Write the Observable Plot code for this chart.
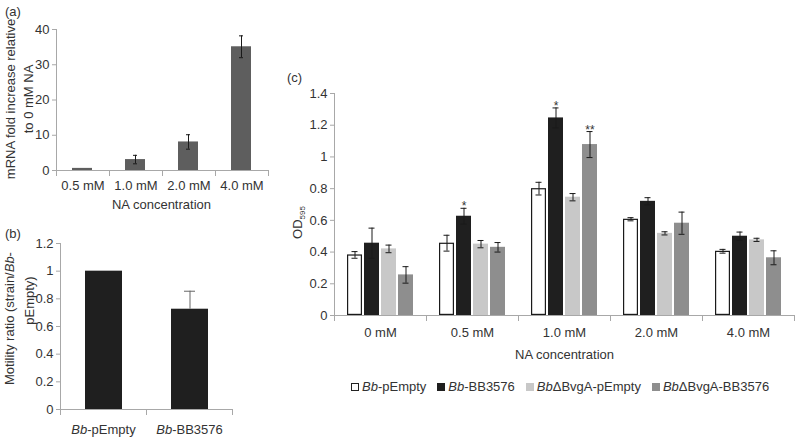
<!DOCTYPE html>
<html><head><meta charset="utf-8">
<script src="https://cdn.jsdelivr.net/npm/d3@7"></script>
<script src="https://cdn.jsdelivr.net/npm/@observablehq/plot@0.6"></script>
<style>
body{margin:0;background:#fff;}
#root{position:relative;width:796px;height:438px;overflow:hidden;font-family:"Liberation Sans",Arial,sans-serif;color:#333;background:#fff;}
.panel{position:absolute;}
.tag{position:absolute;font-size:13px;line-height:15px;}
#legend{position:absolute;display:flex;align-items:center;gap:11px;font-size:13px;white-space:nowrap;line-height:15px;}
#legend .it{display:flex;align-items:center;gap:3px;}
#legend .sw{display:inline-block;width:6px;height:6px;}
</style></head><body><div id="root"></div>
<script>
// ---- Panel (a) data ----
const concA = ["0.5 mM", "1.0 mM", "2.0 mM", "4.0 mM"];
const foldA = [0.6, 3.1, 8.1, 35.1];
const foldErrA = [0, 1.2, 2.05, 3.1];
const ticksA = [0, 10, 20, 30, 40];
const labelA = ["mRNA fold increase relative", "to 0 mM NA"];

// ---- Panel (b) data ----
const strainsB = ["Bb-pEmpty", "Bb-BB3576"];
const motB = [1, 0.725];
const motErrB = [0, 0.13];
const ticksB = [0, 0.2, 0.4, 0.6, 0.8, 1, 1.2];
const labelB = ["Motility ratio (strain/Bb-", "pEmpty)"];

// ---- Panel (c) data ----
const concC = ["0 mM", "0.5 mM", "1.0 mM", "2.0 mM", "4.0 mM"];
const seriesC = ["Bb-pEmpty", "Bb-BB3576", "Bb\u0394BvgA-pEmpty", "Bb\u0394BvgA-BB3576"];
const odPEmpty      = [0.382, 0.456, 0.800, 0.607, 0.405];
const odBB3576      = [0.456, 0.626, 1.246, 0.720, 0.500];
const odDeltaPEmpty = [0.420, 0.450, 0.746, 0.518, 0.477];
const odDeltaBB3576 = [0.256, 0.430, 1.078, 0.582, 0.364];
const errPEmpty      = [0.021, 0.050, 0.040, 0.010, 0.012];
const errBB3576      = [0.095, 0.050, 0.063, 0.023, 0.026];
const errDeltaPEmpty = [0.024, 0.023, 0.023, 0.010, 0.010];
const errDeltaBB3576 = [0.052, 0.030, 0.082, 0.070, 0.044];
const sigConc = ["0.5 mM", "1.0 mM", "1.0 mM"];
const sigSeries = ["Bb-BB3576", "Bb-BB3576", "Bb\u0394BvgA-BB3576"];
const sigLabel = ["*", "*", "**"];
const ticksC = [0, 0.2, 0.4, 0.6, 0.8, 1, 1.2, 1.4];
const colorsC = ["#ffffff", "#1f1f1f", "#c8c8c8", "#8e8e8e"];

const font = '"Liberation Sans", Arial, sans-serif';
const axisGray = "#a8a8a8";
const ink = "#333";
const svgNS = "http://www.w3.org/2000/svg";
const fmt = d3.format("~g");
const style = () => ({fontFamily: font, fontSize: "13px", color: ink, background: "transparent", overflow: "visible"});

function place(el, left, top) {
  const wrap = document.createElement("div");
  wrap.className = "panel";
  wrap.style.left = left + "px"; wrap.style.top = top + "px";
  wrap.appendChild(el);
  document.getElementById("root").appendChild(wrap);
  return wrap;
}
function tag(text, left, top) {
  const d = document.createElement("div");
  d.className = "tag"; d.textContent = text;
  d.style.left = left + "px"; d.style.top = top + "px";
  document.getElementById("root").appendChild(d);
}
function italicizeBb(svg) {
  const w = document.createTreeWalker(svg, NodeFilter.SHOW_TEXT);
  const nodes = []; while (w.nextNode()) nodes.push(w.currentNode);
  for (const n of nodes) {
    if (!n.nodeValue.includes("Bb")) continue;
    const parts = n.nodeValue.split("Bb");
    const frag = document.createDocumentFragment();
    parts.forEach((p, i) => {
      if (i > 0) { const t = document.createElementNS(svgNS, "tspan"); t.setAttribute("font-style", "italic"); t.textContent = "Bb"; frag.appendChild(t); }
      if (p) frag.appendChild(document.createTextNode(p));
    });
    n.parentNode.replaceChild(frag, n);
  }
}
function subscriptOD(svg) {
  const w = document.createTreeWalker(svg, NodeFilter.SHOW_TEXT);
  const nodes = []; while (w.nextNode()) nodes.push(w.currentNode);
  for (const n of nodes) {
    if (n.nodeValue !== "OD595") continue;
    const frag = document.createDocumentFragment();
    frag.appendChild(document.createTextNode("OD"));
    const t = document.createElementNS(svgNS, "tspan");
    t.setAttribute("dy", "0.35em"); t.setAttribute("font-size", "8px"); t.textContent = "595";
    frag.appendChild(t);
    const textEl = n.parentNode.closest("text") || n.parentNode;
    n.parentNode.replaceChild(frag, n);
    textEl.setAttribute("dx", "-18");
  }
}
// slide a rotated axis title along its own direction (positive = up on screen)
function slideLabel(svg, text, px) {
  svg.querySelectorAll("text").forEach(t => { if (t.textContent === text) t.setAttribute("dx", px); });
}
// a tick-less axis that only carries one line of a (rotated) axis title
const labelLine = (text, offset) => Plot.axisY({tickSize: 0, tickFormat: () => "", label: text, labelAnchor: "center", labelOffset: offset, labelArrow: false, fill: ink});

// ---------- Panel (a) ----------
const dataA = concA.map((c, i) => ({conc: c, value: foldA[i], err: foldErrA[i]}));
const A = {w: 280, h: 200, ml: 55, mr: 12, mt: 29, mb: 30};
const fhA = A.h - A.mt - A.mb;
const plotA = Plot.plot({
  width: A.w, height: A.h, marginLeft: A.ml, marginRight: A.mr, marginTop: A.mt, marginBottom: A.mb,
  style: style(),
  fx: {domain: concA, padding: 0},
  x: {domain: ["bar"], padding: 0.44, axis: null},
  y: {domain: [0, 40]},
  marks: [
    Plot.frame({anchor: "left", facetAnchor: "left", stroke: axisGray}),
    Plot.ruleY([0], {stroke: axisGray}),
    Plot.frame({anchor: "left", insetTop: fhA, insetBottom: -5, stroke: axisGray}),
    Plot.frame({anchor: "right", facetAnchor: "right", insetTop: fhA, insetBottom: -5, stroke: axisGray}),
    Plot.barY(dataA, {fx: "conc", x: () => "bar", y: "value", fill: "#5e5e5e"}),
    Plot.ruleX(dataA, {filter: d => d.err > 0, fx: "conc", x: () => "bar", y1: d => d.value - d.err, y2: d => d.value + d.err, stroke: "#1a1a1a"}),
    Plot.tickY(dataA, {filter: d => d.err > 0, fx: "conc", x: () => "bar", y: d => d.value + d.err, insetLeft: 8, insetRight: 8, stroke: "#1a1a1a"}),
    Plot.tickY(dataA, {filter: d => d.err > 0, fx: "conc", x: () => "bar", y: d => d.value - d.err, insetLeft: 8, insetRight: 8, stroke: "#1a1a1a"}),
    Plot.axisY({ticks: ticksA, tickFormat: fmt, tickSize: 4, tickPadding: 3, stroke: axisGray, fill: ink, label: null}),
    labelLine(labelA[0], 51),
    labelLine(labelA[1], 33),
    Plot.axisFx({anchor: "bottom", tickSize: 0, tickPadding: 10, fill: ink, label: null})
  ]
});
place(plotA, 0, 0);
slideLabel(plotA, labelA[0], 1);
slideLabel(plotA, labelA[1], 1);
tag("(a)", 5, 4);

// ---------- Panel (b) ----------
const dataB = strainsB.map((s, i) => ({strain: s, value: motB[i], err: motErrB[i]}));
const B = {w: 260, h: 218, ml: 60, mr: 28, mt: 23, mb: 29};
const fhB = B.h - B.mt - B.mb;
const plotB = Plot.plot({
  width: B.w, height: B.h, marginLeft: B.ml, marginRight: B.mr, marginTop: B.mt, marginBottom: B.mb,
  style: style(),
  fx: {domain: strainsB, padding: 0},
  x: {domain: ["bar"], padding: 0.4, axis: null},
  y: {domain: [0, 1.2]},
  marks: [
    Plot.frame({anchor: "left", facetAnchor: "left", stroke: axisGray}),
    Plot.ruleY([0], {stroke: axisGray}),
    Plot.frame({anchor: "left", insetTop: fhB, insetBottom: -5, stroke: axisGray}),
    Plot.frame({anchor: "right", facetAnchor: "right", insetTop: fhB, insetBottom: -5, stroke: axisGray}),
    Plot.barY(dataB, {fx: "strain", x: () => "bar", y: "value", fill: "#1f1f1f"}),
    Plot.ruleX(dataB, {filter: d => d.err > 0, fx: "strain", x: () => "bar", y1: "value", y2: d => d.value + d.err, stroke: "#666"}),
    Plot.tickY(dataB, {filter: d => d.err > 0, fx: "strain", x: () => "bar", y: d => d.value + d.err, insetLeft: 13, insetRight: 13, stroke: "#666"}),
    Plot.axisY({ticks: ticksB, tickFormat: fmt, tickSize: 4, tickPadding: 3, stroke: axisGray, fill: ink, label: null}),
    labelLine(labelB[0], 56),
    labelLine(labelB[1], 36),
    Plot.axisFx({anchor: "bottom", tickSize: 0, tickPadding: 15, fill: ink, label: null})
  ]
});
place(plotB, 0, 220);
slideLabel(plotB, labelB[0], 8);
slideLabel(plotB, labelB[1], 26);
italicizeBb(plotB);
tag("(b)", 5, 226);

// ---------- Panel (c) ----------
const valuesC = [odPEmpty, odBB3576, odDeltaPEmpty, odDeltaBB3576];
const errorsC = [errPEmpty, errBB3576, errDeltaPEmpty, errDeltaBB3576];
const dataC = concC.flatMap((c, i) => seriesC.map((s, j) => ({conc: c, series: s, value: valuesC[j][i], err: errorsC[j][i]})));
const sigData = sigConc.map((c, k) => {
  const d = dataC.find(e => e.conc === c && e.series === sigSeries[k]);
  return {conc: c, series: sigSeries[k], label: sigLabel[k], top: d.value + d.err};
});
const C = {w: 526, h: 300, ml: 62, mr: 1, mt: 33, mb: 45};
const fhC = C.h - C.mt - C.mb;
const plotC = Plot.plot({
  width: C.w, height: C.h, marginLeft: C.ml, marginRight: C.mr, marginTop: C.mt, marginBottom: C.mb,
  style: style(),
  fx: {domain: concC, padding: 0},
  x: {domain: seriesC, paddingInner: 0.12, paddingOuter: 0.68, axis: null},
  y: {domain: [0, 1.4]},
  color: {domain: seriesC, range: colorsC},
  marks: [
    Plot.frame({anchor: "left", facetAnchor: "left", stroke: axisGray}),
    Plot.ruleY([0], {stroke: axisGray}),
    Plot.frame({anchor: "left", insetTop: fhC, insetBottom: -5, stroke: axisGray}),
    Plot.frame({anchor: "right", facetAnchor: "right", insetTop: fhC, insetBottom: -5, stroke: axisGray}),
    Plot.barY(dataC, {fx: "conc", x: "series", y: "value", fill: "series"}),
    Plot.barY(dataC, {filter: d => d.series === seriesC[0], fx: "conc", x: "series", y: "value", fill: "white", stroke: "#1a1a1a", strokeWidth: 1.2, inset: 0.6}),
    Plot.ruleX(dataC, {fx: "conc", x: "series", y1: d => d.value - d.err, y2: d => d.value + d.err, stroke: "#1a1a1a"}),
    Plot.tickY(dataC, {fx: "conc", x: "series", y: d => d.value + d.err, insetLeft: 4.5, insetRight: 4.5, stroke: "#1a1a1a"}),
    Plot.tickY(dataC, {fx: "conc", x: "series", y: d => d.value - d.err, insetLeft: 4.5, insetRight: 4.5, stroke: "#1a1a1a"}),
    Plot.text(sigData, {fx: "conc", x: "series", y: "top", text: "label", lineAnchor: "bottom", dy: 2, fontSize: 12, fill: ink}),
    Plot.axisY({ticks: ticksC, tickFormat: fmt, tickSize: 4, tickPadding: 3, stroke: axisGray, fill: ink,
      label: "OD595", labelAnchor: "center", labelOffset: 42, labelArrow: false}),
    Plot.axisFx({anchor: "bottom", tickSize: 0, tickPadding: 12, fill: ink,
      label: "NA concentration", labelAnchor: "center", labelOffset: 43, labelArrow: false})
  ]
});
place(plotC, 270, 60);
subscriptOD(plotC);
tag("(c)", 287, 70);

// x title of (a)
const titleA = document.createElement("div");
titleA.className = "tag"; titleA.textContent = "NA concentration";
titleA.style.left = (A.ml) + "px"; titleA.style.width = (A.w - A.ml - A.mr) + "px"; titleA.style.textAlign = "center"; titleA.style.top = "197px";
document.getElementById("root").appendChild(titleA);

// legend for (c)
const legend = document.createElement("div");
legend.id = "legend";
legend.style.left = "351px"; legend.style.top = "379px";
seriesC.forEach((s, j) => {
  const it = document.createElement("span"); it.className = "it";
  const sw = document.createElement("span"); sw.className = "sw";
  sw.style.background = colorsC[j];
  sw.style.border = "1px solid " + (j === 0 ? "#222" : colorsC[j]);
  const tx = document.createElement("span");
  tx.innerHTML = s.replace(/^Bb/, "<i>Bb</i>");
  it.appendChild(sw); it.appendChild(tx);
  legend.appendChild(it);
});
document.getElementById("root").appendChild(legend);
</script>
</body></html>
